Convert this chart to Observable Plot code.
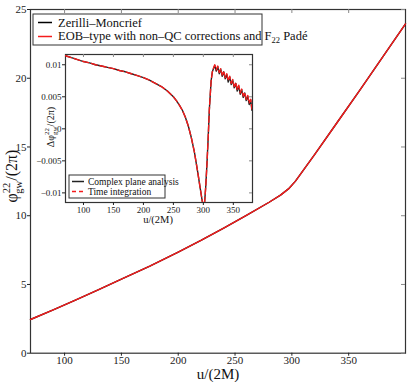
<!DOCTYPE html>
<html>
<head>
<meta charset="utf-8">
<script src="https://cdn.jsdelivr.net/npm/d3@7"></script>
<script src="https://cdn.jsdelivr.net/npm/@observablehq/plot@0.6"></script>
<style>
  body { margin: 0; background: white; }
  #wrap { position: relative; width: 409px; height: 382px; font-family: "Liberation Serif", serif; }
  #wrap svg { position: absolute; overflow: visible; }
  #wrap svg text { font-family: "Liberation Serif", "Times New Roman", serif; }
</style>
</head>
<body>
<div id="wrap"></div>
<script>
// ---- main panel data ----
const mainU   = [70, 90, 110, 130, 150, 175, 200, 220, 240, 260, 280, 290, 297, 303, 310, 320, 340, 360, 380, 400];
const phiZM   = [2.45, 3.15, 3.88, 4.62, 5.38, 6.33, 7.35, 8.2, 9.1, 10.02, 10.98, 11.5, 11.95, 12.5, 13.3, 14.45, 16.8, 19.15, 21.55, 23.95];
const phiEOB  = [2.45, 3.15, 3.88, 4.62, 5.38, 6.33, 7.35, 8.2, 9.1, 10.02, 10.98, 11.5, 11.95, 12.5, 13.3, 14.45, 16.8, 19.15, 21.55, 23.95];
const mainXTicks = [100, 150, 200, 250, 300, 350];
const mainYTicks = [0, 5, 10, 15, 20, 25];

// ---- inset data ----
const insetU = [70, 80, 90, 100, 110, 120, 130, 140, 150, 160, 170, 180, 190, 200, 210, 220, 230, 240, 250, 255, 260, 265, 270, 275, 280, 285, 290, 295, 298, 300, 302, 304, 306, 308, 310, 311.5, 313, 315, 317, 319,
  321.5, 324, 326.5, 329, 331.5, 334, 336.5, 339, 341.5, 344, 346.5, 349, 351.5, 354, 356.5, 359, 361.5, 364, 366.5, 369, 371.5, 374, 376.5, 379, 381];
const dPhiComplex = [0.0114, 0.0111, 0.0108, 0.0105, 0.0103, 0.0100, 0.0098, 0.0096, 0.0094, 0.0091, 0.0089, 0.0086, 0.0083, 0.0080, 0.0076, 0.0071, 0.0066, 0.0059, 0.0050, 0.0044, 0.0037, 0.0029, 0.0018, 0.0004, -0.0014, -0.0036, -0.0064, -0.0094, -0.0112, -0.0120, -0.0116, -0.0090, -0.0055, -0.0015, 0.0030, 0.0053, 0.0075, 0.0089, 0.0094, 0.0099,
  0.0090, 0.0097, 0.0086, 0.0093, 0.0082, 0.0089, 0.0078, 0.0085, 0.0073, 0.0081, 0.0069, 0.0076, 0.0064, 0.0071, 0.0059, 0.0067, 0.0054, 0.0061, 0.0049, 0.0056, 0.0044, 0.0051, 0.0038, 0.0045, 0.0029];
const dPhiTime = [0.0114, 0.0111, 0.0108, 0.0105, 0.0103, 0.0100, 0.0098, 0.0096, 0.0094, 0.0091, 0.0089, 0.0086, 0.0083, 0.0080, 0.0076, 0.0071, 0.0066, 0.0059, 0.0050, 0.0044, 0.0037, 0.0029, 0.0018, 0.0004, -0.0014, -0.0036, -0.0064, -0.0094, -0.0112, -0.0120, -0.0116, -0.0090, -0.0055, -0.0015, 0.0030, 0.0053, 0.0075, 0.0089, 0.0095, 0.0100,
  0.0092, 0.0098, 0.0088, 0.0094, 0.0084, 0.0090, 0.0080, 0.0086, 0.0075, 0.0082, 0.0071, 0.0077, 0.0066, 0.0072, 0.0061, 0.0068, 0.0056, 0.0062, 0.0051, 0.0057, 0.0046, 0.0052, 0.0040, 0.0046, 0.0031];
const insetXTicks = [100, 150, 200, 250, 300, 350];
const insetYTicks = [-0.01, -0.005, 0, 0.005, 0.01];

const legendMain = ["Zerilli\u2013Moncrief", "EOB\u2013type with non\u2013QC corrections and F"];
const legendInset = ["Complex plane analysis", "Time integration"];

const RED = "#f41c1c";
const FONT = "'Liberation Serif', 'Times New Roman', serif";

const mainData = mainU.map((u, i) => ({u, zm: phiZM[i], eob: phiEOB[i]}));
const insetData = insetU.map((u, i) => ({u, cp: dPhiComplex[i], ti: dPhiTime[i]}));

// ---- main plot ----
const W = 409, H = 382, mL = 30, mR = 4, mT = 9, mB = 29.3;
const main = Plot.plot({
  width: W, height: H,
  marginLeft: mL, marginRight: mR, marginTop: mT, marginBottom: mB,
  x: {domain: [70, 400], label: null},
  y: {domain: [0, 25], label: null},
  style: {fontFamily: FONT, fontSize: "11px", background: "white", color: "#222"},
  marks: [
    Plot.frame({stroke: "#333", strokeWidth: 1.2}),
    Plot.axisX({ticks: mainXTicks, tickSize: 3, tickPadding: 0, label: null, fontSize: 11}),
    Plot.axisY({ticks: mainYTicks, tickSize: 3, tickPadding: 1, label: null, fontSize: 11}),
    Plot.tickX(mainXTicks, {x: d => d, insetBottom: H - mT - mB - 4, stroke: "#888"}),
    Plot.tickY(mainYTicks, {y: d => d, insetLeft: W - mL - mR - 4, stroke: "#888"}),
    Plot.line(mainData, {x: "u", y: "zm", stroke: "black", strokeWidth: 1.4}),
    Plot.line(mainData, {x: "u", y: "eob", stroke: RED, strokeWidth: 1.4})
  ]
});
main.style.left = "0px"; main.style.top = "0px";
document.getElementById("wrap").appendChild(main);

const ms = d3.select(main);
// x label
ms.append("text").attr("x", 218).attr("y", 379).attr("text-anchor", "middle")
  .attr("font-size", 15).attr("fill", "#111").text("u/(2M)");
// y label
const yl = ms.append("text").attr("transform", "translate(17,176) rotate(-90)")
  .attr("text-anchor", "middle").attr("font-size", 16).attr("fill", "#111");
yl.append("tspan").text("\u03c6");
yl.append("tspan").attr("font-size", 10.5).attr("dy", -7).text("22");
yl.append("tspan").attr("font-size", 10.5).attr("dx", -11).attr("dy", 12).text("gw");
yl.append("tspan").attr("dy", -5).text("/(2\u03c0)");

// main legend
const lg = ms.append("g").attr("text-anchor", "start");
lg.append("rect").attr("x", 33).attr("y", 14).attr("width", 229).attr("height", 31)
  .attr("fill", "white").attr("stroke", "#333").attr("stroke-width", 1);
lg.append("line").attr("x1", 38).attr("x2", 52).attr("y1", 22.5).attr("y2", 22.5).attr("stroke", "black").attr("stroke-width", 1.5);
lg.append("line").attr("x1", 38).attr("x2", 52).attr("y1", 36.5).attr("y2", 36.5).attr("stroke", RED).attr("stroke-width", 1.5);
lg.append("text").attr("x", 58).attr("y", 26.5).attr("text-anchor", "start").attr("font-size", 12.5).attr("fill", "#111").text(legendMain[0]);
const l2 = lg.append("text").attr("x", 58).attr("y", 39.5).attr("text-anchor", "start").attr("font-size", 12.5).attr("fill", "#111");
l2.append("tspan").text(legendMain[1]);
l2.append("tspan").attr("font-size", 8.5).attr("dy", 3).text("22");
l2.append("tspan").attr("dy", -3).text(" Pad\u00e9");

// ---- inset ----
const iW = 231, iH = 176, iL = 40, iR = 4, iT = 4, iB = 24;
const inset = Plot.plot({
  width: iW, height: iH,
  marginLeft: iL, marginRight: iR, marginTop: iT, marginBottom: iB,
  x: {domain: [70, 382], label: null},
  y: {domain: [-0.0115, 0.0116], label: null},
  style: {fontFamily: FONT, fontSize: "9px", background: "transparent", color: "#222"},
  marks: [
    Plot.frame({fill: "white", stroke: "#333", strokeWidth: 1.2}),
    Plot.axisX({ticks: insetXTicks, tickSize: 3, tickPadding: 1, label: null, fontSize: 9}),
    Plot.axisY({ticks: insetYTicks, tickSize: 3, tickPadding: 1, label: null, fontSize: 9,
      tickFormat: d => d === 0 ? "0" : (d < 0 ? "\u2212" : "") + String(Math.abs(d))}),
    Plot.tickX(insetXTicks, {x: d => d, insetBottom: iH - iT - iB - 3, stroke: "#888"}),
    Plot.tickY(insetYTicks, {y: d => d, insetLeft: iW - iL - iR - 3, stroke: "#888"}),
    Plot.line(insetData, {x: "u", y: "cp", stroke: "#222", strokeWidth: 1.4, clip: true}),
    Plot.line(insetData, {x: "u", y: "ti", stroke: RED, strokeWidth: 1.4, strokeDasharray: "6,3", clip: true})
  ]
});
inset.style.left = "25px"; inset.style.top = "50px";
document.getElementById("wrap").appendChild(inset);

const is = d3.select(inset);
is.append("text").attr("x", 133).attr("y", 173).attr("text-anchor", "middle")
  .attr("font-size", 10.5).attr("fill", "#111").text("u/(2M)");
const iyl = is.append("text").attr("transform", "translate(29,77) rotate(-90)")
  .attr("text-anchor", "middle").attr("font-size", 10).attr("fill", "#111");
iyl.append("tspan").text("\u0394\u03c6");
iyl.append("tspan").attr("font-size", 7).attr("dy", -5).text("22");
iyl.append("tspan").attr("font-size", 7).attr("dx", -7).attr("dy", 8).text("gw");
iyl.append("tspan").attr("dy", -3).text("/(2\u03c0)");

const ilg = is.append("g").attr("text-anchor", "start");
ilg.append("rect").attr("x", 44).attr("y", 125).attr("width", 96).attr("height", 23)
  .attr("fill", "white").attr("stroke", "#333").attr("stroke-width", 1);
ilg.append("line").attr("x1", 47).attr("x2", 59).attr("y1", 131.5).attr("y2", 131.5).attr("stroke", "#222").attr("stroke-width", 1.5);
ilg.append("line").attr("x1", 47).attr("x2", 59).attr("y1", 141.5).attr("y2", 141.5).attr("stroke", RED).attr("stroke-width", 1.5).attr("stroke-dasharray", "4,3");
ilg.append("text").attr("x", 63).attr("y", 134.5).attr("text-anchor", "start").attr("font-size", 9.5).attr("fill", "#111").text(legendInset[0]);
ilg.append("text").attr("x", 63).attr("y", 144.5).attr("text-anchor", "start").attr("font-size", 9.5).attr("fill", "#111").text(legendInset[1]);
</script>
</body>
</html>
